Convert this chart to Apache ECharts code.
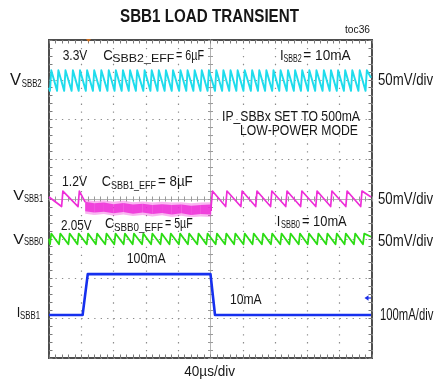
<!DOCTYPE html>
<html><head><meta charset="utf-8">
<script src="https://cdn.jsdelivr.net/npm/echarts@6/dist/echarts.min.js"></script>
<style>html,body{margin:0;padding:0;background:#fff}#c{width:443px;height:384px}</style>
</head><body><div id="c"></div>
<script>
// ---- data (time in divisions of 40us, amplitude in divisions) ----
const timeRange = [-5, 5];
const ampRange = [-4, 4];

// VSBB2 (cyan) sawtooth: times of each fast rise
const vsbb2Rises = [-4.93,-4.71,-4.49,-4.26,-4.04,-3.82,-3.60,-3.38,-3.15,-2.93,-2.71,-2.49,-2.27,-2.04,-1.82,-1.60,-1.38,-1.16,-0.93,-0.71,-0.49,-0.27,-0.05,0.18,0.40,0.62,0.84,1.06,1.29,1.51,1.73,1.95,2.17,2.40,2.62,2.84,3.06,3.28,3.51,3.73,3.95,4.17,4.39,4.62,4.84];
const vsbb2Low = 2.72, vsbb2High = 3.24;
const vsbb2Start = [-5, 2.80], vsbb2End = [4.97, 3.05];

// VSBB1 (magenta): sawtooth before the load step, noisy band during, sawtooth after
const vsbb1RisesA = [-4.57, -4.06];
const vsbb1StartA = [-5, 0.05], vsbb1EndA = [-3.88, -0.08];
const vsbb1BandTime   = [-3.88,-3.6,-3.3,-3.0,-2.7,-2.4,-2.1,-1.8,-1.5,-1.2,-0.9,-0.6,-0.3,0.02];
const vsbb1BandTop    = [-0.07,-0.11,-0.09,-0.13,-0.10,-0.14,-0.12,-0.15,-0.13,-0.15,-0.14,-0.17,-0.15,-0.14];
const vsbb1BandBottom = [-0.31,-0.34,-0.32,-0.36,-0.33,-0.37,-0.34,-0.38,-0.35,-0.39,-0.36,-0.40,-0.38,-0.39];
const vsbb1NoiseTop    = [-0.02,-0.05,-0.03,-0.07,-0.04,-0.08,-0.06,-0.09,-0.07,-0.09,-0.08,-0.11,-0.09,-0.08];
const vsbb1NoiseBottom = [-0.37,-0.40,-0.38,-0.42,-0.39,-0.43,-0.40,-0.44,-0.41,-0.45,-0.42,-0.46,-0.44,-0.45];
const vsbb1RisesB = [0.06,0.51,0.98,1.44,1.90,2.37,2.83,3.30,3.76,4.23,4.69];
const vsbb1StartB = [0.02, -0.30], vsbb1EndB = [4.97, 0.05];
const vsbb1Low = -0.19, vsbb1High = 0.20;

// VSBB0 (green) sawtooth
const vsbb0Rises = [-4.93,-4.65,-4.36,-4.08,-3.79,-3.51,-3.22,-2.94,-2.65,-2.37,-2.08,-1.80,-1.51,-1.23,-0.94,-0.66,-0.37,-0.09,0.20,0.49,0.77,1.06,1.34,1.63,1.91,2.20,2.48,2.77,3.05,3.34,3.62,3.91,4.19,4.48,4.76];
const vsbb0Low = -1.14, vsbb0High = -0.87;
const vsbb0Start = [-5, -1.0], vsbb0End = [4.97, -0.95];

// ISBB1 (blue) load step 10mA -> 100mA -> 10mA
const isbb1Time  = [-5, -3.96, -3.80, 0.00, 0.14, 4.97];
const isbb1Level = [-2.92, -2.92, -1.89, -1.89, -2.92, -2.92];

const riseWidth = 0.04;

// ---- build series data ----
function sawtooth(rises, lo, hi, start, end) {
  const pts = [start];
  rises.forEach(t => { pts.push([t - riseWidth, lo]); pts.push([t, hi]); });
  pts.push(end);
  return pts;
}
const cyanData = sawtooth(vsbb2Rises, vsbb2Low, vsbb2High, vsbb2Start, vsbb2End);
const magAData = sawtooth(vsbb1RisesA, vsbb1Low, vsbb1High, vsbb1StartA, vsbb1EndA);
const magBData = sawtooth(vsbb1RisesB, vsbb1Low, vsbb1High, vsbb1StartB, vsbb1EndB);
const greenData = sawtooth(vsbb0Rises, vsbb0Low, vsbb0High, vsbb0Start, vsbb0End);
const blueData = isbb1Time.map((t, i) => [t, isbb1Level[i]]);
const bandRows = vsbb1BandTime.map((t, i) => [t, vsbb1BandTop[i], vsbb1BandBottom[i]]);
const noiseRows = vsbb1BandTime.map((t, i) => [t, vsbb1NoiseTop[i], vsbb1NoiseBottom[i]]);

// ---- texts: [text, xLeft, xRight, yCenter, fontSize, bold] ----
const texts = [
 ['SBB1 LOAD TRANSIENT',120,299,16.7,18.5,1],
 ['toc36',345,370,30.5,10,0],
 ['3.3V',62.7,87.3,55.5,15,0],
 ['C',103.3,111.7,55.8,15.5,0],
 ['SBB2_EFF',112.3,174.3,59.3,11.5,0],
 ['= 6µF',176,204,55.8,15.5,0],
 ['I',280,283,55.5,15.5,0],
 ['SBB2',283.5,301.7,59,11.5,0],
 ['= 10mA',303.3,350.7,55.5,15.5,0],
 ['V',10,21,81,16,0],
 ['SBB2',21.7,41.7,83.5,11.5,0],
 ['50mV/div',378,433,81,16,0],
 ['IP_SBBx SET TO 500mA',222,360,116.5,15,0],
 ['LOW-POWER MODE',240,358,131,15,0],
 ['1.2V',62,87,181.7,14.5,0],
 ['C',101.7,110.5,182,15,0],
 ['SBB1_EFF',111,156,186.5,10.5,0],
 ['= 8µF',158,192.7,182,15,0],
 ['V',13.3,24,196,15,0],
 ['SBB1',24,43.3,198.5,11,0],
 ['50mV/div',378,433,199.5,16,0],
 ['2.05V',61,91.7,225.5,15,0],
 ['C',105,113.5,224,15,0],
 ['SBB0_EFF',114,163,227.5,11,0],
 ['= 5µF',165,192.7,224,15,0],
 ['I',276.7,280,221.7,15,0],
 ['SBB0',281,300,225,11,0],
 ['= 10mA',302,346.7,221.7,15,0],
 ['V',13.3,24,239.5,15,0],
 ['SBB0',24,43.3,242,11,0],
 ['50mV/div',378,433,241.5,16,0],
 ['100mA',126.7,165.7,259,15,0],
 ['10mA',230,261.7,300,15,0],
 ['I',16.7,19.5,313,15,0],
 ['SBB1',20,40,315.5,11,0],
 ['100mA/div',380,433.3,316,16,0],
 ['40µs/div',184.3,235,371.7,15,0]
];

const FONT = 'Liberation Sans';
const mctx = document.createElement('canvas').getContext('2d');
function natWidth(t, size, bold) {
  mctx.font = (bold ? 'bold ' : '') + size + 'px "' + FONT + '"';
  return mctx.measureText(t).width;
}
const graphics = texts.map(([t, x0, x1, yc, size, bold]) => {
  const nw = natWidth(t, size, bold);
  let k = (x1 - x0) / nw;
  if (t.length === 1) k = Math.max(k, 0.85);
  return {
    type: 'text', x: x0, y: yc, scaleX: k, silent: true, z: 10,
    style: { text: t, fontSize: size, fontFamily: FONT, fontWeight: bold ? 'bold' : 'normal',
             fill: '#161616', align: 'left', verticalAlign: 'middle' }
  };
});
// channel reference arrow (blue) at right edge & trigger marker (orange)
graphics.push({ type: 'polygon', silent: true, z: 10, shape: { points: [[364.5, 298], [368.5, 295.3], [368.5, 300.7]] }, style: { fill: '#1a2ee8' } });
graphics.push({ type: 'line', silent: true, z: 10, shape: { x1: 366, y1: 298, x2: 371, y2: 298 }, style: { stroke: '#1a2ee8', lineWidth: 1.2 } });
graphics.push({ type: 'polygon', silent: true, z: 10, shape: { points: [[86, 39], [91, 39], [88.5, 42]] }, style: { fill: '#d07020' } });

// ---- axes ----
const edgeTick = { show: true, inside: true, length: 3.5, lineStyle: { color: '#7a7a7a', width: 1 } };
const edgeMinor = { show: true, splitNumber: 5, length: 3.5, lineStyle: { color: '#7a7a7a', width: 1 } };
function xAx(extra) {
  return Object.assign({ type: 'value', min: timeRange[0], max: timeRange[1], interval: 1,
    axisLabel: { show: false }, splitLine: { show: false } }, extra);
}
function yAx(extra) {
  return Object.assign({ type: 'value', min: ampRange[0], max: ampRange[1], interval: 1,
    axisLabel: { show: false }, splitLine: { show: false } }, extra);
}
const centerLine = { show: true, lineStyle: { color: '#b4b4b4', width: 1 } };
const cTickIn = { show: true, inside: true, length: 2.5, lineStyle: { color: '#999', width: 1 } };
const cMinorIn = { show: true, splitNumber: 5, length: 2.5, lineStyle: { color: '#999', width: 1 } };

const xAxes = [
  xAx({ position: 'bottom', axisLine: { show: false, onZero: false }, axisTick: edgeTick, minorTick: edgeMinor,
        splitLine: { show: true, lineStyle: { color: '#8c8c8c', width: 1.2, type: [1.3, 6.65] } } }),
  xAx({ position: 'top', axisLine: { show: false, onZero: false }, axisTick: edgeTick, minorTick: edgeMinor }),
  xAx({ position: 'bottom', axisLine: Object.assign({ onZero: true, onZeroAxisIndex: 0 }, centerLine), axisTick: cTickIn, minorTick: cMinorIn }),
  xAx({ position: 'top', axisLine: { show: false, onZero: true, onZeroAxisIndex: 0 }, axisTick: cTickIn, minorTick: cMinorIn })
];
const yAxes = [
  yAx({ position: 'left', axisLine: { show: false, onZero: false }, axisTick: edgeTick, minorTick: edgeMinor,
        splitLine: { show: true, lineStyle: { color: '#8c8c8c', width: 1.2, type: [1.3, 5.16] } } }),
  yAx({ position: 'right', axisLine: { show: false, onZero: false }, axisTick: edgeTick, minorTick: edgeMinor }),
  yAx({ position: 'left', axisLine: Object.assign({ onZero: true, onZeroAxisIndex: 0 }, centerLine), axisTick: cTickIn, minorTick: cMinorIn }),
  yAx({ position: 'right', axisLine: { show: false, onZero: true, onZeroAxisIndex: 0 }, axisTick: cTickIn, minorTick: cMinorIn })
];

function line(name, data, color, width) {
  return { name, type: 'line', data, xAxisIndex: 0, yAxisIndex: 0, showSymbol: false, symbol: 'none',
           animation: false, silent: true, lineStyle: { color, width, join: 'round' } };
}
function band(name, rows, color, opacity) {
  return { name, type: 'custom', data: rows, xAxisIndex: 0, yAxisIndex: 0, silent: true,
    encode: { x: 0, y: [1, 2] },
    renderItem: function (params, api) {
      const i = params.dataIndex;
      if (i >= rows.length - 1) return null;
      const n = rows[i + 1];
      const pts = [api.coord([api.value(0), api.value(1)]), api.coord([n[0], n[1]]),
                   api.coord([n[0], n[2]]), api.coord([api.value(0), api.value(2)])];
      return { type: 'polygon', shape: { points: pts }, style: { fill: color, opacity: opacity } };
    } };
}
const CYAN = '#1fdcec', MAG = '#ee2ed8', GREEN = '#2cdc14', BLUE = '#1630ee';

const chart = echarts.init(document.getElementById('c'), null, { renderer: 'canvas' });
chart.setOption({
  animation: false,
  backgroundColor: '#ffffff',
  grid: { left: 49, top: 40, width: 323, height: 318, show: true, borderColor: '#4e4e4e', borderWidth: 2, backgroundColor: 'transparent' },
  xAxis: xAxes,
  yAxis: yAxes,
  series: [
    line('ISBB1', blueData, BLUE, 2.6),
    line('VSBB0', greenData, GREEN, 1.8),
    band('VSBB1 noise', noiseRows, MAG, 0.35),
    band('VSBB1 band', bandRows, MAG, 0.85),
    line('VSBB1a', magAData, MAG, 1.7),
    line('VSBB1b', magBData, MAG, 1.7),
    line('VSBB2', cyanData, CYAN, 1.9)
  ],
  graphic: graphics
});
</script></body></html>
